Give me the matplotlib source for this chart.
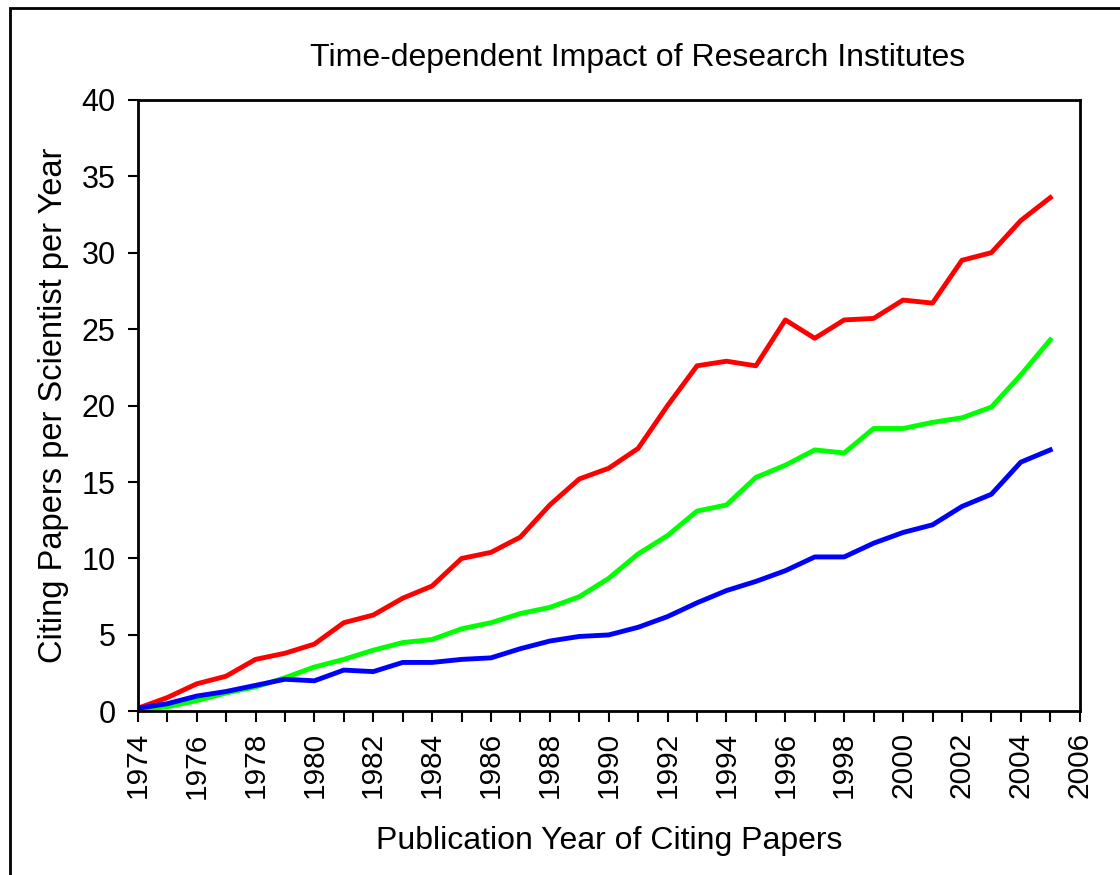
import matplotlib.pyplot as plt
from matplotlib.patches import Rectangle
from matplotlib.ticker import MultipleLocator

plt.rcParams['font.family'] = ['Liberation Sans', 'DejaVu Sans']

# Данные
years = list(range(1974, 2006))
red_vals = [0.2, 0.9, 1.8, 2.3, 3.4, 3.8, 4.4, 5.8, 6.3, 7.4, 8.2, 10.0, 10.4, 11.4, 13.5, 15.2,
            15.9, 17.2, 20.0, 22.6, 22.9, 22.6, 25.6, 24.4, 25.6, 25.7, 26.9, 26.7, 29.5, 30.0, 32.1, 33.6]
green_vals = [0.1, 0.3, 0.7, 1.2, 1.6, 2.2, 2.9, 3.4, 4.0, 4.5, 4.7, 5.4, 5.8, 6.4, 6.8, 7.5,
              8.7, 10.3, 11.5, 13.1, 13.5, 15.3, 16.1, 17.1, 16.9, 18.5, 18.5, 18.9, 19.2, 19.9, 22.0, 24.3]
blue_vals = [0.2, 0.5, 1.0, 1.3, 1.7, 2.1, 2.0, 2.7, 2.6, 3.2, 3.2, 3.4, 3.5, 4.1, 4.6, 4.9,
             5.0, 5.5, 6.2, 7.1, 7.9, 8.5, 9.2, 10.1, 10.1, 11.0, 11.7, 12.2, 13.4, 14.2, 16.3, 17.1]

fig = plt.figure(figsize=(11.2, 8.75), dpi=100)
ax = fig.add_axes([0.123, 0.187, 0.841, 0.699])

ax.plot(years, red_vals, color='#ff0000', lw=3.5)
ax.plot(years, green_vals, color='#00ff00', lw=3.5)
ax.plot(years, blue_vals, color='#0000ff', lw=3.5)

ax.set_xlim(1974, 2006)
ax.set_ylim(0, 40)
ax.xaxis.set_major_locator(MultipleLocator(2))
ax.xaxis.set_minor_locator(MultipleLocator(1))
ax.yaxis.set_major_locator(MultipleLocator(5))
ax.tick_params(axis='x', which='both', direction='out', length=8, width=1.5,
               labelsize=21.5, labelrotation=90, pad=7)
ax.tick_params(axis='y', direction='out', length=7, width=1.5, labelsize=22, pad=9)
for s in ax.spines.values():
    s.set_linewidth(2)

ax.set_xlabel('Publication Year of Citing Papers', fontsize=23, labelpad=20)
ax.set_ylabel('Citing Papers per Scientist per Year', fontsize=23.5, labelpad=9)
fig.text(0.569, 0.934, 'Time-dependent Impact of Research Institutes', fontsize=23,
         ha='center', va='center')

# рамка вокруг рисунка
fig.patches.append(Rectangle((10 / 1120, -0.1), 1.2, 1.1 - 8 / 875,
                             transform=fig.transFigure, fill=False, lw=2, ec='black'))

fig.savefig('out.png', dpi=100)
